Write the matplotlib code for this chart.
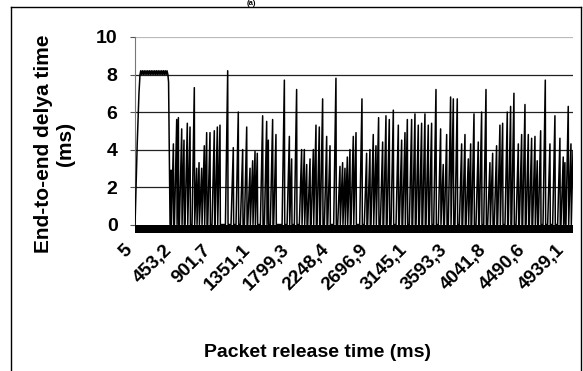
import matplotlib
matplotlib.use("Agg")
import matplotlib.pyplot as plt
import matplotlib.transforms as mtransforms
from matplotlib.lines import Line2D

plt.rcParams['font.family'] = ['Liberation Sans', 'DejaVu Sans']
plt.rcParams['font.weight'] = 'bold'

# start-up phase: delay climbs to ~8 ms and stays there
plateau_t = [5, 30, 50, 62, 70, 80, 90, 100, 110, 120, 130, 140, 150, 160,
             170, 180, 190, 200, 210, 220, 230, 240, 250, 260, 270, 280, 290,
             300, 310, 320, 330, 340, 350, 360, 370, 380, 388, 405]
plateau_v = [0, 4.3, 7.0, 8.0, 8.2, 8.0, 8.2, 8.0, 8.2, 8.0, 8.2, 8.0, 8.2, 8.0,
             8.2, 8.0, 8.2, 8.0, 8.2, 8.0, 8.2, 8.0, 8.2, 8.0, 8.2, 8.0, 8.2,
             8.0, 8.2, 8.0, 8.2, 8.0, 8.2, 8.0, 8.2, 8.0, 7.6, 0]

# peaks of the sawtooth afterwards (time in ms, delay in ms)
peak_t = [416, 443, 481, 500, 538, 564, 602, 633, 682, 709, 736, 766, 796, 823,
          861, 910, 945, 975, 1063, 1127, 1184, 1234, 1280, 1318, 1348, 1375,
          1401, 1462, 1508, 1527, 1576, 1614, 1710, 1767, 1793, 1850, 1907,
          1938, 1965, 2003, 2041, 2071, 2109, 2147, 2193, 2231, 2299, 2345,
          2375, 2402, 2429, 2459, 2497, 2528, 2596, 2649, 2687, 2725, 2756,
          2786, 2832, 2870, 2908, 2954, 3011, 3049, 3087, 3114, 3163, 3201,
          3239, 3277, 3315, 3353, 3391, 3441, 3494, 3524, 3563, 3608, 3639,
          3684, 3734, 3772, 3810, 3837, 3875, 3924, 3962, 4012, 4057, 4088,
          4133, 4171, 4202, 4255, 4293, 4331, 4381, 4419, 4457, 4495, 4533,
          4571, 4597, 4636, 4689, 4742, 4799, 4856, 4894, 4913, 4951, 4982,
          5005]
peak_v = [2.9, 4.3, 5.6, 5.7, 5.1, 4.5, 5.4, 5.2, 7.3, 3.0, 3.3, 3.0, 4.2, 4.9,
          4.9, 5.0, 5.2, 5.3, 8.2, 4.1, 6.0, 4.0, 5.2, 3.0, 3.4, 3.9,
          3.8, 5.8, 5.5, 4.5, 5.6, 4.8, 7.7, 4.7, 3.5, 7.2, 4.0,
          4.0, 3.2, 3.5, 4.0, 5.3, 5.2, 6.7, 4.7, 4.2, 7.8, 3.1,
          3.3, 3.0, 3.6, 4.0, 4.7, 4.9, 6.7, 3.8, 4.0, 4.8, 4.2,
          5.7, 4.4, 5.8, 5.6, 6.1, 5.3, 4.5, 4.9, 5.6, 5.6, 5.9,
          5.3, 5.4, 5.9, 5.3, 5.4, 7.2, 5.1, 3.2, 4.8, 6.8, 6.7,
          6.7, 4.3, 4.8, 3.5, 4.3, 5.9, 4.4, 6.0, 7.2, 3.3, 3.8,
          4.2, 5.3, 5.4, 6.0, 6.3, 7.0, 4.3, 4.8, 6.4, 4.8, 4.6,
          4.7, 3.4, 5.0, 7.7, 4.3, 5.8, 4.6, 3.6, 3.3, 6.3, 4.3,
          3.9]

tick_vals = [5, 453.2, 901.7, 1351.1, 1799.3, 2248.4, 2696.9, 3145.1,
             3593.3, 4041.8, 4490.6, 4939.1]

# series: each peak ramps up from zero shortly before and drops right after
t = list(plateau_t)
v = list(plateau_v)
last = plateau_t[-1]
for i in range(len(peak_t)):
    start = max(last, peak_t[i] - 26)
    t.append(start)
    v.append(0)
    t.append(peak_t[i])
    v.append(peak_v[i])
    if i < len(peak_t) - 1:
        t.append(peak_t[i] + 4)
        v.append(0)
        last = peak_t[i] + 4

fig = plt.figure(figsize=(5.83, 3.71), dpi=100)
ax = fig.add_axes([0.2316, 0.372, 0.7512, 0.5283])

for g in [2, 4, 6, 8]:
    ax.axhline(g, color='#222222', lw=0.9, zorder=1)
ax.axhline(10, color='#bbbbbb', lw=0.9, zorder=1)

ax.plot(t, v, color='black', lw=1.1, zorder=3)
ax.axhspan(-0.45, 0, color='black', lw=0, zorder=4)

ax.set_xlim(5, 5005)
ax.set_ylim(-0.45, 10)
ax.set_yticks([0, 2, 4, 6, 8, 10])
ax.set_yticklabels(['0', '2', '4', '6', '8', '10'], fontsize=14, fontweight='bold')
ax.tick_params(axis='y', direction='out', length=3.6, width=0.8, color='#555555', pad=9)

ax.set_xticks(tick_vals)
ax.set_xticklabels([str(x).replace('.', ',') if x != 5 else '5' for x in tick_vals],
                   fontsize=13.5, fontweight='bold')
ax.tick_params(axis='x', length=0, pad=10.5)
off = mtransforms.ScaledTranslation(-5 / 100, 0, fig.dpi_scale_trans)
for lab in ax.get_xticklabels():
    lab.set_rotation(45)
    lab.set_rotation_mode('anchor')
    lab.set_ha('right')
    lab.set_va('center')
    lab.set_transform(lab.get_transform() + off)

for s in ['top', 'right', 'bottom']:
    ax.spines[s].set_visible(False)
ax.spines['left'].set_color('#777777')
ax.spines['left'].set_bounds(0, 10)

fig.text(0.094, 0.612, 'End-to-end delya time\n(ms)', rotation=90, ha='center',
         va='center', multialignment='center', fontsize=15, fontweight='bold')
fig.text(0.545, 0.051, 'Packet release time (ms)', ha='center', va='center',
         fontsize=14, fontweight='bold')
fig.text(0.432, 0.999, '(a)', ha='center', va='top', fontsize=5.5, fontweight='bold')

# outer chart border
x0, x1, ytop = 11 / 583, 580.5 / 583, 1 - 7 / 371
fig.add_artist(Line2D([x0, x1], [ytop, ytop], color='black', lw=1))
fig.add_artist(Line2D([x0, x0], [ytop, 0], color='black', lw=1))
fig.add_artist(Line2D([x1, x1], [ytop, 0], color='black', lw=1))

fig.savefig('out.png', dpi=100)
